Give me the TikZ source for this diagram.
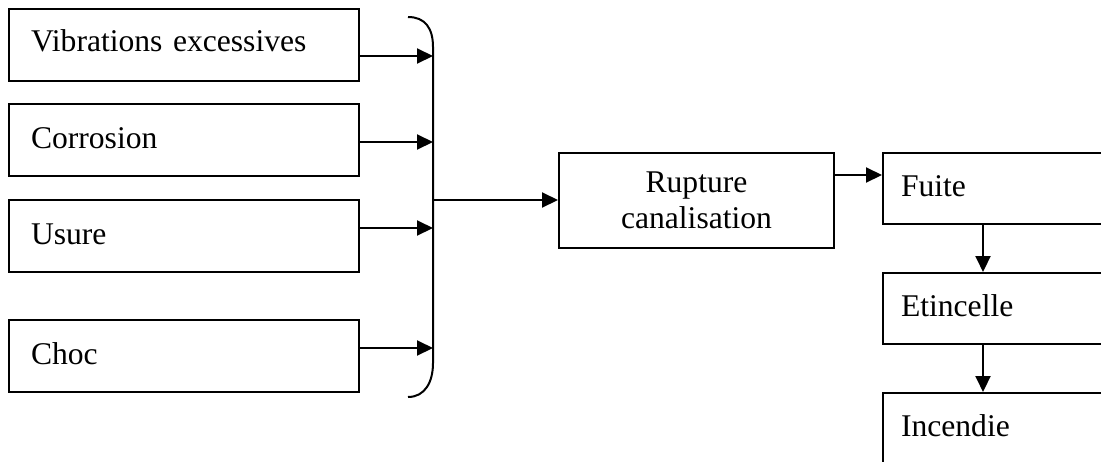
\documentclass[tikz,border=0pt]{standalone}
\usepackage{fontspec}
\setmainfont{Liberation Serif}
\usetikzlibrary{arrows.meta}
\begin{document}
\begin{tikzpicture}[x=0.5pt,y=-0.5pt,
  every node/.style={font=\fontsize{15.8pt}{18.2pt}\selectfont},
  cause/.style={draw,line width=1pt,anchor=north west,minimum width=175pt,minimum height=36pt,
    text width=153pt,inner xsep=11pt,align=left,text height=10.5pt,text depth=2.5pt},
  event/.style={draw,line width=1pt,anchor=north west,minimum width=160pt,minimum height=35.5pt,
    text width=151pt,inner xsep=9pt,align=left,text height=10.5pt,text depth=2.5pt},
  central/.style={draw,line width=1pt,anchor=north west,minimum width=137.5pt,minimum height=47.5pt,
    align=center},
  arr/.style={line width=1pt,-{Triangle[length=8pt,width=7.5pt]}},
  link/.style={line width=1pt}]
\useasboundingbox (0,0) rectangle (1101,461);
\clip (0,0) rectangle (1101,461);

% causes
\node[cause,text depth=4.5pt] (v1) at (8,8) {Vibrations excessives};
\node[cause] (v2) at (8,103) {Corrosion};
\node[cause] (v3) at (8,199) {Usure};
\node[cause] (v4) at (8,319) {Choc};

% grouping bracket
\coordinate (btop) at (408,17);
\coordinate (bbot) at (408,397);
\draw[link] (btop) .. controls (425,17) and (433,28) .. (433,47)
  -- (433,363) .. controls (433,382) and (425,397) .. (bbot);

\coordinate (b1) at (433,56);
\coordinate (b2) at (433,142);
\coordinate (b3) at (433,228);
\coordinate (b4) at (433,348);
\coordinate (bm) at (433,200);

\draw[arr] (b1 -| v1.east) -- (b1);
\draw[arr] (b2 -| v2.east) -- (b2);
\draw[arr] (b3 -| v3.east) -- (b3);
\draw[arr] (b4 -| v4.east) -- (b4);

% central event
\node[central] (rup) at (558,152) {Rupture\\canalisation};
\draw[arr] (bm) -- (bm -| rup.west);

% consequences
\node[event] (fuite) at (882,152) {Fuite};
\node[event] (etin)  at (882,272) {Etincelle};
\node[event] (inc)   at (882,392) {Incendie};

\coordinate (fa) at (882,175);
\draw[arr] (fa -| rup.east) -- (fa -| fuite.west);

\coordinate (vx) at (983,0);
\draw[arr] (fuite.south -| vx) -- (etin.north -| vx);
\draw[arr] (etin.south -| vx) -- (inc.north -| vx);
\end{tikzpicture}
\end{document}
